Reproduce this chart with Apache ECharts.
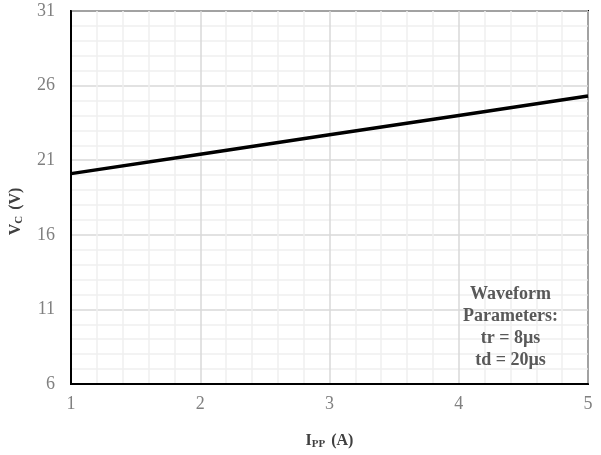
<!DOCTYPE html>
<html><head><meta charset="utf-8">
<script src="https://cdn.jsdelivr.net/npm/echarts@6/dist/echarts.min.js"></script>
<style>html,body{margin:0;padding:0;background:#fff}#c{width:601px;height:455px}</style>
</head><body><div id="c"></div>
<script>
const ippValues = [1, 2, 3, 4, 5];
const vcValues = [20.1, 21.4, 22.7, 24.0, 25.3];
const xTicks = [1, 2, 3, 4, 5];
const yTicks = [6, 11, 16, 21, 26, 31];
const noteLines = ['Waveform', 'Parameters:', 'tr = 8\u00b5s', 'td = 20\u00b5s'];

const chart = echarts.init(document.getElementById('c'), null, {renderer: 'canvas'});
const serif = '"Liberation Serif", "Times New Roman", serif';
const nameRich = {
  b: {fontFamily: serif, fontWeight: 'bold', fontSize: 16, color: '#404040'},
  s: {fontFamily: serif, fontWeight: 'bold', fontSize: 11, color: '#404040', verticalAlign: 'bottom', padding: [7, 2, 0, 0]}
};
chart.setOption({
  animation: false,
  grid: {left: 70, right: 13, top: 11, bottom: 70, show: true, borderColor: '#000', borderWidth: 2, containLabel: false},
  xAxis: {
    type: 'value', min: xTicks[0], max: xTicks[xTicks.length - 1], interval: 1,
    name: '{b|I}{s|PP}{b| (A)}', nameLocation: 'middle', nameGap: 48,
    nameTextStyle: {rich: nameRich},
    axisLine: {show: true, lineStyle: {color: '#000', width: 2}},
    axisTick: {show: false},
    axisLabel: {fontFamily: serif, fontSize: 18, color: '#808080', margin: 11},
    splitLine: {show: true, lineStyle: {color: '#d9d9d9', width: 1.5}},
    minorTick: {show: false, splitNumber: 5},
    minorSplitLine: {show: true, lineStyle: {color: '#f0f0f0', width: 1.5}}
  },
  yAxis: {
    type: 'value', min: yTicks[0], max: yTicks[yTicks.length - 1], interval: 5,
    name: '{b|V}{s|C}{b| (V)}', nameLocation: 'middle', nameGap: 46, nameRotate: 90,
    nameTextStyle: {rich: nameRich, padding: [0, 28, 0, 0]},
    axisLine: {show: true, lineStyle: {color: '#000', width: 2}},
    axisTick: {show: false},
    axisLabel: {fontFamily: serif, fontSize: 18, color: '#808080', margin: 16},
    splitLine: {show: true, lineStyle: {color: '#d9d9d9', width: 1.5}},
    minorTick: {show: false, splitNumber: 5},
    minorSplitLine: {show: true, lineStyle: {color: '#f0f0f0', width: 1.5}}
  },
  graphic: [{
    type: 'text', z: 10, left: 463, top: 283,
    style: {
      text: noteLines.join('\n'), fill: '#595959', font: 'bold 18px ' + serif,
      textAlign: 'center', lineHeight: 22
    }
  }],
  series: [{
    type: 'line', data: ippValues.map((x, i) => [x, vcValues[i]]),
    showSymbol: false, symbol: 'none', smooth: false,
    lineStyle: {color: '#000', width: 3.5}
  }]
});
</script></body></html>
